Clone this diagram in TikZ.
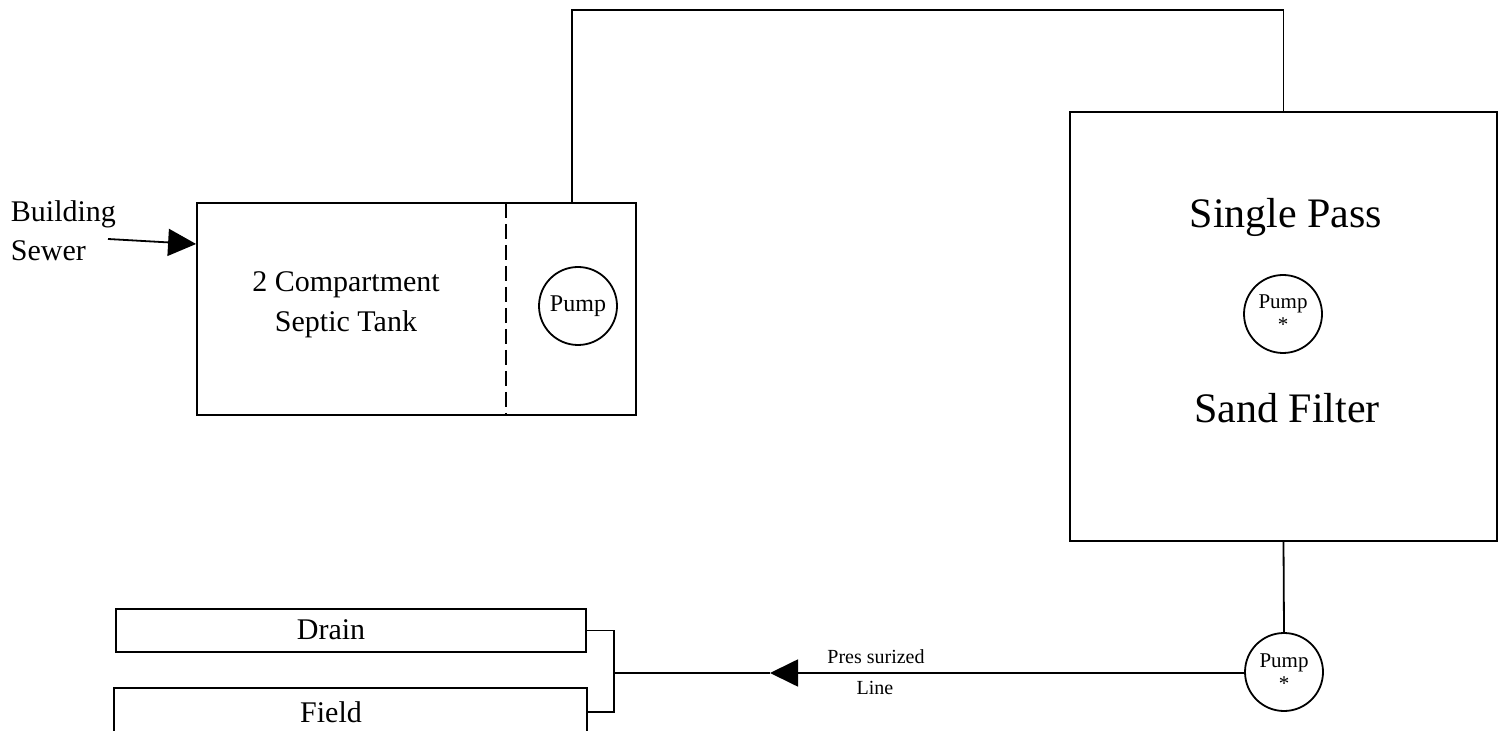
\documentclass[tikz,border=0pt]{standalone}
\usepackage{fontspec}
\setmainfont{Liberation Serif}
\usetikzlibrary{arrows.meta}
\begin{document}
\begin{tikzpicture}[x=0.5pt,y=-0.5pt,
  line width=0.9pt,
  box/.style={draw, rectangle, inner sep=0pt},
  pumpc/.style={draw, circle, minimum size=39pt, inner sep=0pt},
  lbl/.style={inner sep=0pt, font=\fontsize{15}{18}\selectfont},
  big/.style={inner sep=0pt, font=\fontsize{21}{25}\selectfont},
  small/.style={inner sep=0pt, font=\fontsize{10.5}{11}\selectfont},
  tip/.style={-{Triangle[length=14pt,width=13.5pt]}}
]
\useasboundingbox (0,0) rectangle (1504,731);
\begin{scope}
\clip (0,0) rectangle (1504,731);
% septic tank
\node[box, minimum width=219.5pt, minimum height=106pt] (tank) at (416.5,309) {};
\draw[dash pattern=on 7.5pt off 3pt] (506,203) -- (506,415);
\node[lbl, align=center] (tanktext) at (346,305) {2 Compartment\\[2pt]Septic Tank};
\node[pumpc, font=\fontsize{12}{14}\selectfont] (pump1) at (578,306) {Pump};
% building sewer
\node[lbl, anchor=west] (building) at (10,214) {Building};
\node[lbl, anchor=west] (sewer) at (10,251) {Sewer};
\coordinate (bsw) at (108,239);
\draw[tip] (bsw) -- (tank.west |- 0,244);
% sand filter
\node[box, minimum width=213.5pt, minimum height=214.5pt] (filter) at (1283.5,326.5) {};
\node[big] (single) at (1286,217) {Single Pass};
\node[big] (sand) at (1287,408) {Sand Filter};
\node[pumpc] (pump2) at (1283,314) {};
\node[small] (p2a) at (1283,304) {Pump};
\node[small] (p2b) at (1283,325) {*};
% pipe from tank to filter
\coordinate (tout) at (572,203);
\coordinate (ttop) at (572,10);
\draw (tout) -- (ttop) -| (filter.north);
% pump after filter
\node[pumpc] (pump3) at (1284,672) {};
\node[small] (p3a) at (1284,663) {Pump};
\node[small] (p3b) at (1284,684) {*};
\draw (filter.south) -- (pump3.north);
% pressurized line
\coordinate (arrowtip) at (770,673);
\coordinate (junc) at (614,673);
\draw[tip] (pump3.west |- arrowtip) -- (arrowtip);
\draw (arrowtip) -- (junc);
\node[inner sep=0pt, font=\fontsize{10}{12}\selectfont] (pres) at (876,657) {Pres surized};
\node[inner sep=0pt, font=\fontsize{10}{12}\selectfont] (line) at (875,688) {Line};
% drain field
\node[box, minimum width=235pt, minimum height=21.5pt] (drain) at (351,630.5) {};
\node[lbl] (draintext) at (331,630) {Drain};
\node[box, minimum width=236.5pt, minimum height=24pt] (field) at (350.5,712) {};
\node[lbl] (fieldtext) at (331,712) {Field};
\draw (drain.east) -| (junc) |- (field.east);
\end{scope}
\end{tikzpicture}
\end{document}
